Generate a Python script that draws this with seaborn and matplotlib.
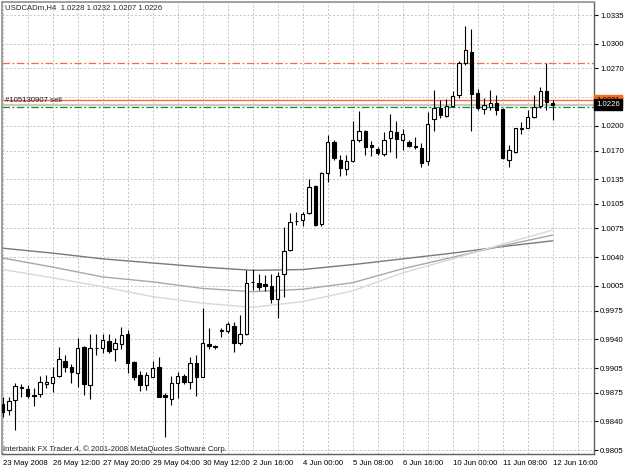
import numpy as np
import pandas as pd
import seaborn as sns
import matplotlib
matplotlib.use("Agg")
from matplotlib import pyplot as plt

# USDCADm H4 bars (open, high, low, close)
bar_open = [0.9861, 0.9854, 0.9866, 0.9881, 0.9880, 0.9872, 0.9873, 0.9886, 0.9887, 0.9895,
            0.9914, 0.9906, 0.9899, 0.9931, 0.9884, 0.9929, 0.9929, 0.9938, 0.9928, 0.9934,
            0.9946, 0.9912, 0.9896, 0.9884, 0.9894, 0.9906, 0.9872, 0.9867, 0.9887, 0.9895,
            0.9888, 0.9911, 0.9894, 0.9934, 0.9932, 0.9950, 0.9950, 0.9956, 0.9936, 0.9946,
            1.0010, 1.0009, 1.0007, 1.0005, 0.9989, 1.0020, 1.0049, 1.0084, 1.0085, 1.0094,
            1.0127, 1.0080, 1.0143, 1.0180, 1.0159, 1.0147, 1.0157, 1.0183, 1.0194, 1.0177,
            1.0172, 1.0166, 1.0185, 1.0193, 1.0183, 1.0180, 1.0175, 1.0173, 1.0157, 1.0208,
            1.0222, 1.0212, 1.0224, 1.0238, 1.0277, 1.0290, 1.0240, 1.0221, 1.0223, 1.0228,
            1.0221, 1.0158, 1.0168, 1.0196, 1.0197, 1.0211, 1.0224, 1.0242, 1.0228]
bar_high = [0.9870, 0.9870, 0.9887, 0.9886, 0.9884, 0.9881, 0.9895, 0.9897, 0.9906, 0.9931,
            0.9921, 0.9910, 0.9942, 0.9932, 0.9946, 0.9946, 0.9946, 0.9946, 0.9942, 0.9955,
            0.9951, 0.9913, 0.9901, 0.9900, 0.9914, 0.9918, 0.9875, 0.9895, 0.9900, 0.9898,
            0.9918, 0.9921, 0.9978, 0.9954, 0.9933, 0.9954, 0.9961, 0.9961, 0.9970, 1.0024,
            1.0026, 1.0020, 1.0018, 1.0020, 1.0022, 1.0077, 1.0094, 1.0095, 1.0095, 1.0135,
            1.0128, 1.0144, 1.0189, 1.0183, 1.0165, 1.0165, 1.0206, 1.0218, 1.0195, 1.0182,
            1.0174, 1.0193, 1.0214, 1.0206, 1.0196, 1.0183, 1.0186, 1.0179, 1.0217, 1.0244,
            1.0232, 1.0233, 1.0242, 1.0279, 1.0322, 1.0318, 1.0245, 1.0234, 1.0244, 1.0238,
            1.0222, 1.0177, 1.0198, 1.0205, 1.0219, 1.0238, 1.0247, 1.0277, 1.0232]
bar_low = [0.9845, 0.9848, 0.9830, 0.9870, 0.9869, 0.9859, 0.9870, 0.9881, 0.9876, 0.9894,
           0.9900, 0.9887, 0.9882, 0.9872, 0.9867, 0.9921, 0.9923, 0.9923, 0.9914, 0.9928,
           0.9899, 0.9890, 0.9877, 0.9878, 0.9894, 0.9870, 0.9821, 0.9860, 0.9869, 0.9886,
           0.9880, 0.9871, 0.9894, 0.9928, 0.9928, 0.9943, 0.9948, 0.9925, 0.9933, 0.9945,
           1.0000, 1.0000, 0.9999, 0.9984, 0.9966, 0.9992, 1.0048, 1.0079, 1.0078, 1.0093,
           1.0078, 1.0078, 1.0132, 1.0158, 1.0139, 1.0140, 1.0156, 1.0180, 1.0164, 1.0163,
           1.0164, 1.0163, 1.0168, 1.0161, 1.0171, 1.0174, 1.0172, 1.0150, 1.0152, 1.0194,
           1.0210, 1.0211, 1.0223, 1.0234, 1.0274, 1.0194, 1.0219, 1.0214, 1.0219, 1.0213,
           1.0160, 1.0150, 1.0167, 1.0190, 1.0197, 1.0210, 1.0222, 1.0219, 1.0207]
bar_close = [0.9851, 0.9865, 0.9883, 0.9882, 0.9871, 0.9871, 0.9888, 0.9888, 0.9894, 0.9916,
             0.9906, 0.9900, 0.9929, 0.9886, 0.9929, 0.9930, 0.9939, 0.9926, 0.9936, 0.9945,
             0.9911, 0.9894, 0.9884, 0.9896, 0.9905, 0.9870, 0.9870, 0.9887, 0.9895, 0.9888,
             0.9911, 0.9894, 0.9936, 0.9932, 0.9931, 0.9951, 0.9959, 0.9936, 0.9946, 1.0009,
             1.0010, 1.0004, 1.0005, 0.9989, 1.0017, 1.0048, 1.0083, 1.0084, 1.0093, 1.0126,
             1.0079, 1.0143, 1.0180, 1.0161, 1.0149, 1.0157, 1.0183, 1.0194, 1.0174, 1.0174,
             1.0167, 1.0183, 1.0194, 1.0184, 1.0190, 1.0175, 1.0174, 1.0155, 1.0202, 1.0222,
             1.0213, 1.0224, 1.0236, 1.0277, 1.0292, 1.0239, 1.0222, 1.0225, 1.0228, 1.0219,
             1.0161, 1.0171, 1.0197, 1.0198, 1.0211, 1.0223, 1.0242, 1.0229, 1.0226]

# moving averages, read at every 8th bar
ma_bars = [0, 8, 16, 24, 32, 40, 48, 56, 64, 72, 80, 88]
ma_slow = [1.0051, 1.0045, 1.0038, 1.0033, 1.0028, 1.0024, 1.0025, 1.0031, 1.0038, 1.0045, 1.0053, 1.0060]
ma_mid = [1.0039, 1.0028, 1.0016, 1.0010, 1.0002, 0.9998, 1.0001, 1.0009, 1.0026, 1.0040, 1.0054, 1.0067]
ma_fast = [1.0025, 1.0015, 1.0004, 0.9992, 0.9984, 0.9979, 0.9986, 0.9999, 1.0021, 1.0038, 1.0056, 1.0073]

x_tick_bars = [0, 8, 16, 24, 32, 40, 48, 56, 64, 72, 80, 88]
x_tick_labels = ["23 May 2008", "26 May 12:00", "27 May 20:00", "29 May 04:00", "30 May 12:00",
                 "2 Jun 16:00", "4 Jun 00:00", "5 Jun 08:00", "6 Jun 16:00", "10 Jun 00:00",
                 "11 Jun 08:00", "12 Jun 16:00"]
y_ticks = [1.0335, 1.0300, 1.0270, 1.0235, 1.0200, 1.0170, 1.0135, 1.0105, 1.0075, 1.0040,
           1.0005, 0.9975, 0.9940, 0.9905, 0.9875, 0.9840, 0.9805]

order_open = 1.0231
order_sl = 1.0277
order_tp = 1.0223
bid = 1.0226

sns.set_style("white")
plt.rcParams["font.family"] = ["Liberation Sans", "DejaVu Sans"]
FS = 5.6

W, H = 625, 469
fig = plt.figure(figsize=(W / 100, H / 100), dpi=100)
ax = fig.add_axes([2 / W, 1 - 454 / H, 592 / W, 452 / H])

bars = pd.DataFrame({"bar": np.arange(len(bar_open)), "open": bar_open, "high": bar_high,
                     "low": bar_low, "close": bar_close})
up = bars["close"] >= bars["open"]

# moving averages
ma = pd.DataFrame({"bar": ma_bars * 3,
                   "value": ma_slow + ma_mid + ma_fast,
                   "ma": ["slow"] * len(ma_bars) + ["mid"] * len(ma_bars) + ["fast"] * len(ma_bars)})
sns.lineplot(data=ma, x="bar", y="value", hue="ma", ax=ax, legend=False, lw=1.0,
             palette={"slow": "#7a7a7a", "mid": "#a8a8a8", "fast": "#d8d8d8"}, zorder=2)

# order levels
ax.axhline(order_sl, color="#ff6a3d", lw=0.9, ls=(0, (6, 2, 1.5, 2)), zorder=1)
ax.axhline(order_open, color="#ff6a3d", lw=1.0, zorder=1)
ax.axhline(bid, color="#c8c8c8", lw=1.6, zorder=1)
ax.axhline(order_tp, color="#1d8a1d", lw=0.9, ls=(0, (6, 2, 1.5, 2)), zorder=1)

# candles
ax.vlines(bars["bar"], bars["low"], bars["high"], color="black", lw=0.8, zorder=3)
ax.bar(bars["bar"][up], (bars["close"] - bars["open"])[up], bottom=bars["open"][up], width=0.55,
       facecolor="white", edgecolor="black", lw=0.8, zorder=4)
ax.bar(bars["bar"][~up], (bars["open"] - bars["close"])[~up], bottom=bars["close"][~up], width=0.55,
       facecolor="black", edgecolor="black", lw=0.8, zorder=4)

ax.set_xlim(-0.11, 94.6)
ax.set_ylim(0.98003, 1.03509)

ax.set_xticks(x_tick_bars)
ax.set_xticklabels(x_tick_labels, ha="left")
ax.set_xticks(np.arange(4, 93, 8), minor=True)
ax.set_yticks(y_ticks)
ax.set_yticklabels([f"{v:.4f}" for v in y_ticks])
ax.yaxis.tick_right()
ax.tick_params(axis="both", which="major", length=3, width=0.8, labelsize=FS, pad=1.5, colors="black")
ax.tick_params(axis="x", which="major", pad=1.5)
ax.tick_params(axis="x", which="minor", length=0)
ax.grid(True, which="both", color="#c4c4c4", lw=0.7, ls=(0, (2, 2)))
ax.set_axisbelow(True)
ax.set_xlabel("")
ax.set_ylabel("")
for side in ["left", "top"]:
    ax.spines[side].set_color("#909090")
    ax.spines[side].set_linewidth(1.2)
for side in ["right", "bottom"]:
    ax.spines[side].set_color("#606060")
    ax.spines[side].set_linewidth(1.0)

# price labels on the scale
ytrans = ax.get_yaxis_transform()
ax.text(1.004, order_open, f"{order_open:.4f}", transform=ytrans, fontsize=FS, color="black",
        va="center", ha="left", clip_on=False, zorder=10,
        bbox=dict(boxstyle="square,pad=0.3", fc="#ff6a1a", ec="#ff6a1a"))
ax.text(1.004, bid, f"{bid:.4f}", transform=ytrans, fontsize=FS, color="white",
        va="center", ha="left", clip_on=False, zorder=11,
        bbox=dict(boxstyle="square,pad=0.3", fc="black", ec="black"))

ax.text(0.005, order_open, "#105130907 sell", transform=ytrans, fontsize=FS,
        va="center", ha="left", zorder=6)

fig.text(5 / W, 1 - 8 / H, "USDCADm,H4  1.0228 1.0232 1.0207 1.0226", fontsize=FS, va="center", ha="left")
fig.text(3 / W, 1 - 449 / H, "Interbank FX Trader 4, \u00a9 2001-2008 MetaQuotes Software Corp.",
         fontsize=FS, va="center", ha="left")

fig.savefig("out.png", dpi=100)
